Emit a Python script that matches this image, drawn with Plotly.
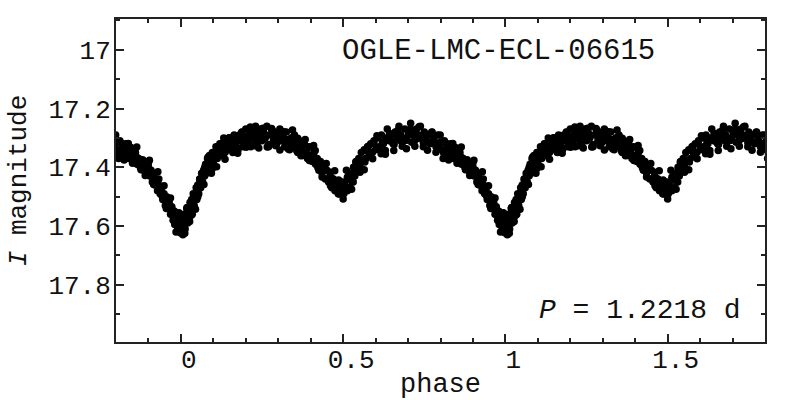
import plotly.graph_objects as go

# One cycle of the folded light curve (phase, I magnitude)
phase_a = [
    0.001, 0.004, 0.006, 0.009, 0.011, 0.013, 0.016, 0.018, 0.021, 0.023,
    0.026, 0.028, 0.031, 0.033, 0.036, 0.038, 0.041, 0.044, 0.047, 0.049,
    0.052, 0.055, 0.058, 0.061, 0.064, 0.067, 0.070, 0.073, 0.076, 0.079,
    0.082, 0.085, 0.088, 0.091, 0.094, 0.097, 0.100,
    0.104, 0.108, 0.112, 0.116, 0.120, 0.124, 0.128, 0.132, 0.136, 0.140,
    0.144, 0.148, 0.152, 0.156, 0.160, 0.164, 0.168, 0.172, 0.176, 0.180,
    0.184, 0.188, 0.192, 0.196,
    0.200, 0.205, 0.210, 0.215, 0.220, 0.225, 0.230, 0.235, 0.240, 0.245,
    0.250, 0.255, 0.260, 0.265, 0.270, 0.275, 0.280, 0.285, 0.290, 0.295,
    0.300, 0.305, 0.310, 0.315, 0.320, 0.325, 0.330, 0.335, 0.340, 0.345,
    0.350, 0.355,
    0.360, 0.365, 0.370, 0.375, 0.380, 0.385, 0.390, 0.395, 0.400, 0.405,
    0.410, 0.415, 0.420, 0.425, 0.430, 0.435, 0.440, 0.445, 0.450, 0.455,
    0.460, 0.465, 0.470, 0.475, 0.480, 0.485, 0.490, 0.494, 0.498, 0.502,
    0.506, 0.510, 0.513, 0.517, 0.520, 0.524, 0.528, 0.532, 0.536, 0.540,
    0.544, 0.548, 0.552, 0.556, 0.560, 0.565, 0.570, 0.575, 0.580, 0.585,
    0.590, 0.595,
    0.600, 0.606, 0.612, 0.618, 0.624, 0.630, 0.636, 0.642, 0.648, 0.654,
    0.660, 0.666, 0.672, 0.678, 0.684, 0.690, 0.696, 0.702, 0.708, 0.714,
    0.720, 0.726, 0.732, 0.738, 0.744, 0.750, 0.756, 0.762, 0.768, 0.774,
    0.780, 0.786, 0.792, 0.798,
    0.804, 0.808, 0.812, 0.816, 0.820, 0.825, 0.830, 0.835, 0.840, 0.845,
    0.850, 0.855, 0.860, 0.865, 0.870, 0.875, 0.880, 0.885, 0.890, 0.895,
    0.900, 0.904, 0.908, 0.912, 0.916, 0.920, 0.924, 0.928, 0.932, 0.936,
    0.940, 0.944, 0.948, 0.952, 0.956, 0.960, 0.964, 0.968, 0.972, 0.976,
    0.980, 0.984, 0.988, 0.992, 0.996,
]
mag_a = [
    17.62, 17.58, 17.63, 17.60, 17.56, 17.61, 17.58, 17.54, 17.59, 17.55,
    17.57, 17.52, 17.55, 17.51, 17.54, 17.49, 17.53, 17.50, 17.47, 17.51,
    17.46, 17.49, 17.44, 17.47, 17.42, 17.45, 17.41, 17.43, 17.39, 17.42,
    17.37, 17.40, 17.36, 17.39, 17.42, 17.35, 17.38,
    17.36, 17.33, 17.37, 17.34, 17.32, 17.36, 17.33, 17.30, 17.35, 17.32,
    17.34, 17.30, 17.33, 17.31, 17.35, 17.29, 17.32, 17.30, 17.34, 17.29,
    17.31, 17.28, 17.33, 17.30,
    17.27, 17.31, 17.29, 17.33, 17.28, 17.30, 17.26, 17.32, 17.29, 17.27,
    17.31, 17.28, 17.30, 17.26, 17.33, 17.29, 17.27, 17.31, 17.28, 17.32,
    17.30, 17.27, 17.31, 17.29, 17.33, 17.28, 17.31, 17.34, 17.30, 17.32,
    17.29, 17.33,
    17.35, 17.31, 17.34, 17.36, 17.32, 17.35, 17.37, 17.33, 17.36, 17.38,
    17.35, 17.39, 17.37, 17.41, 17.38, 17.42, 17.40, 17.44, 17.41, 17.45,
    17.43, 17.47, 17.44, 17.48, 17.45, 17.49, 17.46, 17.48, 17.45, 17.49,
    17.46, 17.41, 17.48, 17.44, 17.47, 17.42, 17.45, 17.40, 17.43, 17.38,
    17.41, 17.37, 17.40, 17.35, 17.38, 17.34, 17.37, 17.33, 17.36, 17.32,
    17.35, 17.31,
    17.34, 17.30, 17.33, 17.29, 17.32, 17.30, 17.27, 17.31, 17.29, 17.32,
    17.28, 17.30, 17.26, 17.29, 17.31, 17.27, 17.30, 17.28, 17.25, 17.29,
    17.31, 17.27, 17.29, 17.26, 17.30, 17.28, 17.31, 17.29, 17.32, 17.28,
    17.30, 17.33, 17.29, 17.32,
    17.34, 17.37, 17.31, 17.35, 17.33, 17.36, 17.32, 17.35, 17.37, 17.34,
    17.36, 17.38, 17.35, 17.39, 17.37, 17.40, 17.38, 17.41, 17.39, 17.42,
    17.40, 17.43, 17.41, 17.45, 17.43, 17.46, 17.44, 17.48, 17.46, 17.49,
    17.47, 17.51, 17.49, 17.53, 17.50, 17.54, 17.52, 17.56, 17.54, 17.58,
    17.55, 17.59, 17.57, 17.61, 17.58,
]

# Second set of observations filling the band
phase_b = [
    0.003, 0.010, 0.017, 0.024, 0.031, 0.038, 0.045, 0.052, 0.059, 0.066,
    0.073, 0.080, 0.087, 0.094, 0.101, 0.110, 0.118, 0.126, 0.134, 0.142,
    0.150, 0.158, 0.166, 0.174, 0.182, 0.190, 0.198, 0.207, 0.216, 0.225,
    0.234, 0.243, 0.252, 0.261, 0.270, 0.279, 0.288, 0.297, 0.306, 0.315,
    0.324, 0.333, 0.342, 0.351, 0.360, 0.369, 0.378, 0.387, 0.396, 0.405,
    0.414, 0.423, 0.432, 0.441, 0.450, 0.459, 0.468, 0.477, 0.486, 0.495,
    0.504, 0.513, 0.522, 0.531, 0.540, 0.549, 0.558, 0.567, 0.576, 0.585,
    0.594, 0.603, 0.612, 0.621, 0.630, 0.639, 0.648, 0.657, 0.666, 0.675,
    0.684, 0.693, 0.702, 0.711, 0.720, 0.729, 0.738, 0.747, 0.756, 0.765,
    0.774, 0.783, 0.792, 0.801, 0.810, 0.819, 0.828, 0.837, 0.846, 0.855,
    0.864, 0.873, 0.882, 0.891, 0.900, 0.908, 0.916, 0.924, 0.932, 0.940,
    0.948, 0.956, 0.964, 0.972, 0.980, 0.986, 0.992, 0.998,
    0.990, 0.994, 0.005, 0.008, 0.014, 0.985, 0.012, 0.020, 0.975, 0.027,
    0.035,
]
mag_b = [
    17.595, 17.597, 17.562, 17.575, 17.523, 17.525, 17.500, 17.500, 17.453, 17.450,
    17.401, 17.408, 17.401, 17.373, 17.394, 17.348, 17.352, 17.359, 17.323, 17.340,
    17.328, 17.333, 17.309, 17.333, 17.294, 17.310, 17.297, 17.315, 17.288, 17.305,
    17.276, 17.298, 17.305, 17.290, 17.322, 17.286, 17.299, 17.314, 17.284, 17.310,
    17.305, 17.319, 17.300, 17.330, 17.301, 17.327, 17.326, 17.352, 17.332, 17.359,
    17.343, 17.378, 17.398, 17.396, 17.440, 17.417, 17.440, 17.465, 17.443, 17.473,
    17.468, 17.474, 17.442, 17.450, 17.395, 17.399, 17.375, 17.382, 17.345, 17.353,
    17.316, 17.331, 17.335, 17.316, 17.343, 17.302, 17.311, 17.322, 17.288, 17.309,
    17.300, 17.309, 17.287, 17.315, 17.281, 17.302, 17.295, 17.316, 17.292, 17.314,
    17.289, 17.316, 17.326, 17.314, 17.351, 17.320, 17.338, 17.357, 17.333, 17.365,
    17.366, 17.386, 17.374, 17.411, 17.385, 17.417, 17.421, 17.452, 17.440, 17.473,
    17.463, 17.504, 17.531, 17.534, 17.585, 17.559, 17.598, 17.623,
    17.605, 17.575, 17.565, 17.615, 17.590, 17.620, 17.625, 17.545, 17.565, 17.585,
    17.560,
]

# Third set of observations with the larger scatter seen at the band edges
phase_c = [
    0.006, 0.019, 0.032, 0.045, 0.058, 0.071, 0.084, 0.097, 0.110, 0.123,
    0.136, 0.149, 0.162, 0.175, 0.188, 0.201, 0.214, 0.227, 0.240, 0.253,
    0.266, 0.279, 0.292, 0.305, 0.318, 0.331, 0.344, 0.357, 0.370, 0.383,
    0.396, 0.409, 0.422, 0.435, 0.448, 0.461, 0.474, 0.487, 0.500, 0.513,
    0.526, 0.539, 0.552, 0.565, 0.578, 0.591, 0.604, 0.617, 0.630, 0.643,
    0.656, 0.669, 0.682, 0.695, 0.708, 0.721, 0.734, 0.747, 0.760, 0.773,
    0.786, 0.799, 0.812, 0.825, 0.838, 0.851, 0.864, 0.877, 0.890, 0.903,
    0.916, 0.929, 0.942, 0.955, 0.968, 0.981, 0.994,
]
mag_c = [
    17.625, 17.537, 17.563, 17.543, 17.441, 17.459, 17.365, 17.404, 17.398, 17.320,
    17.373, 17.299, 17.348, 17.352, 17.281, 17.332, 17.263, 17.327, 17.334, 17.267,
    17.331, 17.268, 17.327, 17.341, 17.279, 17.338, 17.273, 17.344, 17.361, 17.305,
    17.377, 17.326, 17.401, 17.433, 17.387, 17.463, 17.412, 17.491, 17.508, 17.434,
    17.475, 17.382, 17.417, 17.408, 17.328, 17.371, 17.293, 17.354, 17.356, 17.285,
    17.343, 17.274, 17.328, 17.337, 17.270, 17.328, 17.262, 17.330, 17.342, 17.281,
    17.349, 17.290, 17.355, 17.375, 17.319, 17.386, 17.331, 17.408, 17.428, 17.376,
    17.459, 17.415, 17.498, 17.540, 17.505, 17.595, 17.555,
]

star_name = "OGLE-LMC-ECL-06615"
period_text = "<i>P</i> = 1.2218 d"
x_ticks = [0, 0.5, 1, 1.5]
x_tick_text = ["0", "0.5", "1", "1.5"]
y_ticks = [17.0, 17.2, 17.4, 17.6, 17.8]
y_tick_text = ["17", "17.2", "17.4", "17.6", "17.8"]

phase = phase_a + phase_b + phase_c
mag = mag_a + mag_b + mag_c

# The folded curve is drawn over two cycles (phase - 1, phase, phase + 1)
xs, ys = [], []
for shift in (-1, 0, 1):
    xs += [p + shift for p in phase]
    ys += mag

FONT = "Liberation Mono, Courier New, monospace"
AX = "#222222"
TXT = "#111111"

fig = go.Figure()
fig.add_trace(go.Scatter(
    x=xs, y=ys, mode="markers",
    marker=dict(size=7.5, color="#000000", line=dict(width=0)),
    showlegend=False, hoverinfo="skip",
))

fig.update_layout(
    width=800, height=400,
    margin=dict(l=116, r=35, t=19, b=58),
    paper_bgcolor="white", plot_bgcolor="white",
    font=dict(family=FONT, size=26, color=TXT),
    showlegend=False,
)

fig.update_xaxes(
    range=[-0.2, 1.8], automargin=False,
    tickvals=x_ticks, ticktext=x_tick_text,
    ticks="inside", ticklen=8, tickwidth=1.5, tickcolor=AX,
    minor=dict(dtick=0.1, tick0=0, ticks="inside", ticklen=4, tickwidth=1.5, tickcolor=AX),
    showline=True, linewidth=2, linecolor=AX, mirror="allticks",
    showgrid=False, zeroline=False,
    tickfont=dict(family=FONT, size=26, color=TXT),
    ticklabelshift=8, ticklabelstandoff=-7,
    title=dict(text="phase", font=dict(family=FONT, size=27, color=TXT), standoff=0),
)
fig.update_yaxes(
    range=[17.995, 16.895], automargin=False,
    tickvals=y_ticks, ticktext=y_tick_text,
    ticks="inside", ticklen=8, tickwidth=1.5, tickcolor=AX,
    minor=dict(dtick=0.1, tick0=17.0, ticks="inside", ticklen=4, tickwidth=1.5, tickcolor=AX),
    showline=True, linewidth=2, linecolor=AX, mirror="allticks",
    showgrid=False, zeroline=False,
    tickfont=dict(family=FONT, size=26, color=TXT),
    ticklabelstandoff=-2,
    title=dict(text="<i>I</i> magnitude", font=dict(family=FONT, size=26, color=TXT), standoff=14),
)

fig.add_annotation(
    text=star_name, xref="paper", yref="paper", x=0.589, y=0.898,
    xanchor="center", yanchor="middle", showarrow=False,
    font=dict(family=FONT, size=29, color=TXT),
)
fig.add_annotation(
    text=period_text, xref="paper", yref="paper", x=0.966, y=0.098,
    xanchor="right", yanchor="middle", showarrow=False,
    font=dict(family=FONT, size=28, color=TXT),
)

fig.write_html("out.html")
